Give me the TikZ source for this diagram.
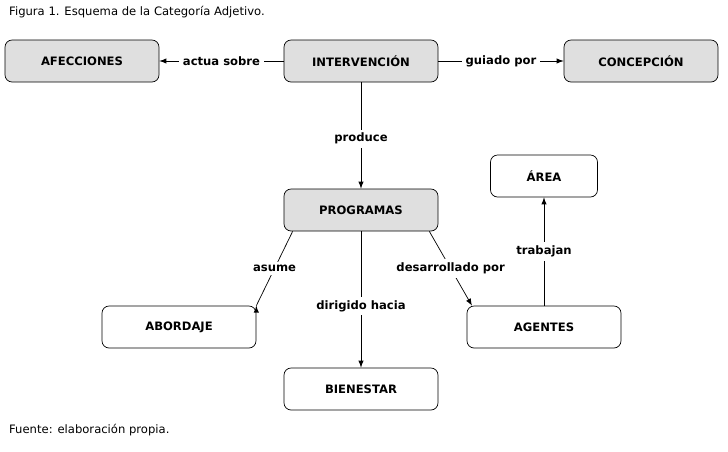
\documentclass[tikz,border=0pt]{standalone}
\usepackage{fontspec}
\setmainfont{DejaVu Sans}
\begin{document}
\begin{tikzpicture}[x=0.02cm,y=-0.02cm,
  caja/.style={draw, rounded corners=4pt, minimum width=3.08cm, minimum height=0.84cm, font=\fontsize{6.6}{8}\selectfont\bfseries},
  gris/.style={caja, fill=gray!25},
  etiq/.style={fill=white, inner sep=2pt, font=\fontsize{6.6}{8}\selectfont\bfseries},
  flecha/.style={->, >=latex}]

\useasboundingbox (0,0) rectangle (728,451);

\node[anchor=west, font=\fontsize{6.6}{8}\selectfont] (titulo) at (3,12) {Figura 1. Esquema de la Categoría Adjetivo.};
\node[anchor=west, font=\fontsize{6.6}{8}\selectfont] (fuente) at (3,430) {Fuente: elaboración propia.};

\node[gris] (afec) at (82,61) {AFECCIONES};
\node[gris] (interv) at (361,61) {INTERVENCIÓN};
\node[gris] (concep) at (641,61) {CONCEPCIÓN};
\node[gris] (prog) at (361,210) {PROGRAMAS};
\node[caja, minimum width=2.14cm] (area) at (544,176) {ÁREA};
\node[caja] (abord) at (179,327) {ABORDAJE};
\node[caja] (agent) at (544,327) {AGENTES};
\node[caja] (bienes) at (361,389) {BIENESTAR};

\draw[flecha] (interv) -- node[etiq] {actua sobre} (afec);
\draw[flecha] (interv) -- node[etiq] {guiado por} (concep);
\draw[flecha] (interv) -- node[etiq, pos=0.53] {produce} (prog);
\draw[flecha] (prog.south west) ++(9,0) coordinate (p1) (p1) -- node[etiq] {asume} (abord.north east) ++(0,0);
\draw[flecha] (prog) -- node[etiq, pos=0.55] {dirigido hacia} (bienes);
\draw[flecha] (prog.south east) ++(-9,0) coordinate (p2) (p2) -- node[etiq] {desarrollado por} ([xshift=-41]agent.north);
\draw[flecha] (agent) -- node[etiq] {trabajan} (area);

\end{tikzpicture}
\end{document}
